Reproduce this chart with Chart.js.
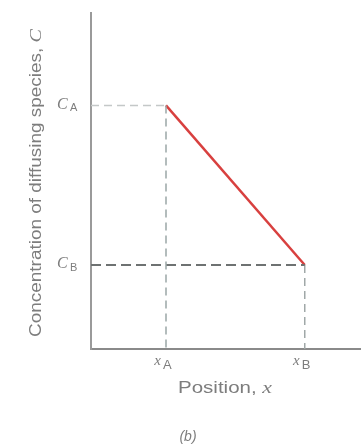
<!DOCTYPE html>
<html>
<head>
<meta charset="utf-8">
<script src="https://cdn.jsdelivr.net/npm/chart.js@4.4.0/dist/chart.umd.min.js"></script>
<style>
  html, body { margin: 0; padding: 0; background: #fff; }
  #wrap { width: 361px; height: 447px; position: relative; }
</style>
</head>
<body>
<div id="wrap"><canvas id="diffusion"></canvas></div>
<script>
// profile end points: x_A, x_B and C_A, C_B
const positions = [1.0, 2.85];
const concentrations = [2.9, 1.0];
const tickSubs = ['A', 'B'];
const xAxisMax = 3.6;
const yAxisMax = 4;

const ctx = document.getElementById('diffusion').getContext('2d');

// draws "plain + italic" text stretched to a given length, centred at 0,0
function fitText(c, plain, ital, size, len) {
    c.font = size + 'px "Liberation Sans"';
    const w1 = c.measureText(plain).width;
    c.font = 'italic ' + (size + 1) + 'px "Liberation Serif"';
    const w2 = c.measureText(ital).width;
    const k = len / (w1 + w2);
    c.save();
    c.scale(k, 1);
    const start = -(w1 + w2) / 2;
    c.font = size + 'px "Liberation Sans"';
    c.fillText(plain, start, 0);
    c.font = 'italic ' + (size + 1) + 'px "Liberation Serif"';
    c.fillText(ital, start + w1, 0);
    c.restore();
}

const labelPlugin = {
    id: 'labels',
    afterDraw(chart) {
        const c = chart.ctx;
        const xs = chart.scales.x, ys = chart.scales.y;
        c.save();
        c.fillStyle = '#7d7d7d';
        c.textBaseline = 'middle';

        // y tick labels C_A, C_B
        concentrations.forEach((v, i) => {
            const py = ys.getPixelForValue(v);
            c.font = 'italic 16px "Liberation Serif"';
            c.textAlign = 'left';
            c.fillText('C', 57, py - 1);
            c.font = '11px "Liberation Sans"';
            c.fillText(tickSubs[i], 70, py + 3);
        });

        // x tick labels x_A, x_B
        positions.forEach((v, i) => {
            const px = xs.getPixelForValue(v);
            c.font = 'italic 15px "Liberation Serif"';
            c.textAlign = 'right';
            c.fillText('x', px - 5, chart.chartArea.bottom + 12);
            c.font = '13px "Liberation Sans"';
            c.textAlign = 'left';
            c.fillText(tickSubs[i], px - 3, chart.chartArea.bottom + 16);
        });

        // x axis title
        c.save();
        c.translate(225, 389);
        fitText(c, 'Position, ', 'x', 16, 94);
        c.restore();

        // y axis title
        c.save();
        c.translate(36, 183);
        c.rotate(-Math.PI / 2);
        fitText(c, 'Concentration of diffusing species, ', 'C', 16.5, 308);
        c.restore();

        // caption
        c.font = 'italic 14px "Liberation Sans"';
        c.textAlign = 'center';
        c.fillText('(b)', 188, 437);
        c.restore();
    }
};

const chart = new Chart(ctx, {
    type: 'scatter',
    data: {
        datasets: [
            {
                // C_A guide
                data: [{x: 0, y: concentrations[0]}, {x: positions[0], y: concentrations[0]}],
                borderColor: '#c4c8c8',
                borderWidth: 1.5,
                borderDash: [8, 5],
                showLine: true,
                pointRadius: 0
            },
            {
                // x_A guide
                data: [{x: positions[0], y: concentrations[0]}, {x: positions[0], y: 0}],
                borderColor: '#9aa6a6',
                borderWidth: 1.5,
                borderDash: [8, 5],
                showLine: true,
                pointRadius: 0
            },
            {
                // C_B guide
                data: [{x: 0, y: concentrations[1]}, {x: positions[1], y: concentrations[1]}],
                borderColor: '#6e7272',
                borderWidth: 2,
                borderDash: [10, 5],
                showLine: true,
                pointRadius: 0
            },
            {
                // x_B guide
                data: [{x: positions[1], y: concentrations[1]}, {x: positions[1], y: 0}],
                borderColor: '#a0a8a8',
                borderWidth: 1.5,
                borderDash: [8, 5],
                showLine: true,
                pointRadius: 0
            },
            {
                label: 'Concentration',
                data: positions.map((p, i) => ({x: p, y: concentrations[i]})),
                borderColor: '#d8403f',
                borderWidth: 2.5,
                showLine: true,
                pointRadius: 0
            }
        ]
    },
    options: {
        responsive: true,
        maintainAspectRatio: false,
        animation: false,
        layout: { padding: { top: 13, right: 0, left: 0, bottom: 0 } },
        scales: {
            x: {
                type: 'linear',
                min: 0,
                max: xAxisMax,
                grid: { display: false },
                border: { color: '#8a8a8a', width: 2 },
                ticks: { display: false },
                afterFit(scale) { scale.height = 98; }
            },
            y: {
                min: 0,
                max: yAxisMax,
                grid: { display: false },
                border: { color: '#9a9a9a', width: 2 },
                ticks: { display: false },
                afterFit(scale) { scale.width = 91; }
            }
        },
        plugins: {
            legend: { display: false },
            tooltip: { enabled: false }
        }
    },
    plugins: [labelPlugin]
});
</script>
</body>
</html>
